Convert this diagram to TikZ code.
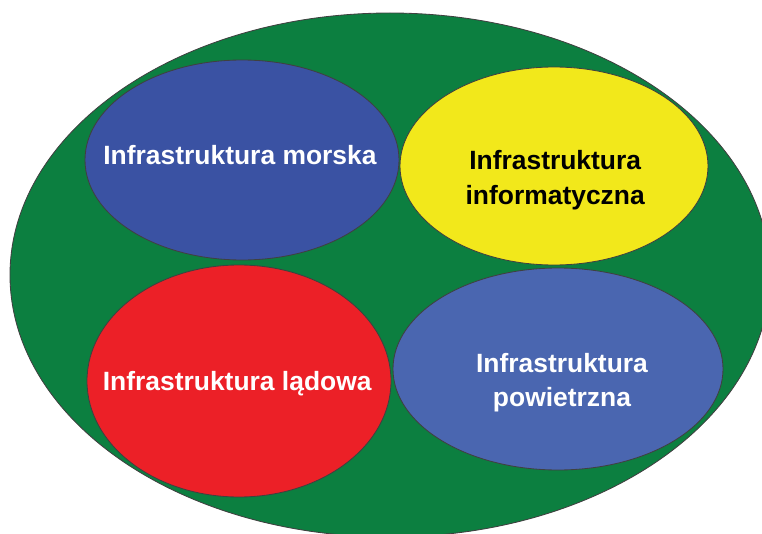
\documentclass[tikz,border=0pt]{standalone}
\usepackage{fontspec}
\setmainfont{Liberation Sans}
\usetikzlibrary{positioning}

\definecolor{outergreen}{HTML}{0C7F40}
\definecolor{seablue}{HTML}{3A52A3}
\definecolor{ityellow}{HTML}{F2E81B}
\definecolor{landred}{HTML}{EC2027}
\definecolor{airblue}{HTML}{4A66B0}

\tikzset{
  area/.style={draw=black!75, line width=0.6pt},
  areatext/.style={font=\bfseries\fontsize{18.8}{24.5}\selectfont, align=center}
}

\begin{document}
\begin{tikzpicture}
    \useasboundingbox (0,0) rectangle (19.05,13.325);

    % outer field
    \draw[area, fill=outergreen] (9.75,6.45) ellipse (9.5 and 6.55);

    % the four kinds of infrastructure
    \draw[area, fill=seablue] (6.05,9.325) ellipse (3.925 and 2.5);
    \draw[area, fill=ityellow] (13.85,9.175) ellipse (3.85 and 2.475);
    \draw[area, fill=landred] (5.975,3.8) ellipse (3.8 and 2.9);
    \draw[area, fill=airblue] (13.95,4.1) ellipse (4.125 and 2.525);

    % labels
    \node[areatext, white] (morska) at (6.0,9.45) {Infrastruktura morska};
    \node[areatext, black] (informatyczna) at (13.88,8.82) {Infrastruktura\\informatyczna};
    \node[areatext, white] (ladowa) at (5.93,3.73) {Infrastruktura lądowa};
    \node[areatext, white] (powietrzna) at (14.05,3.76) {Infrastruktura\\powietrzna};
\end{tikzpicture}
\end{document}
